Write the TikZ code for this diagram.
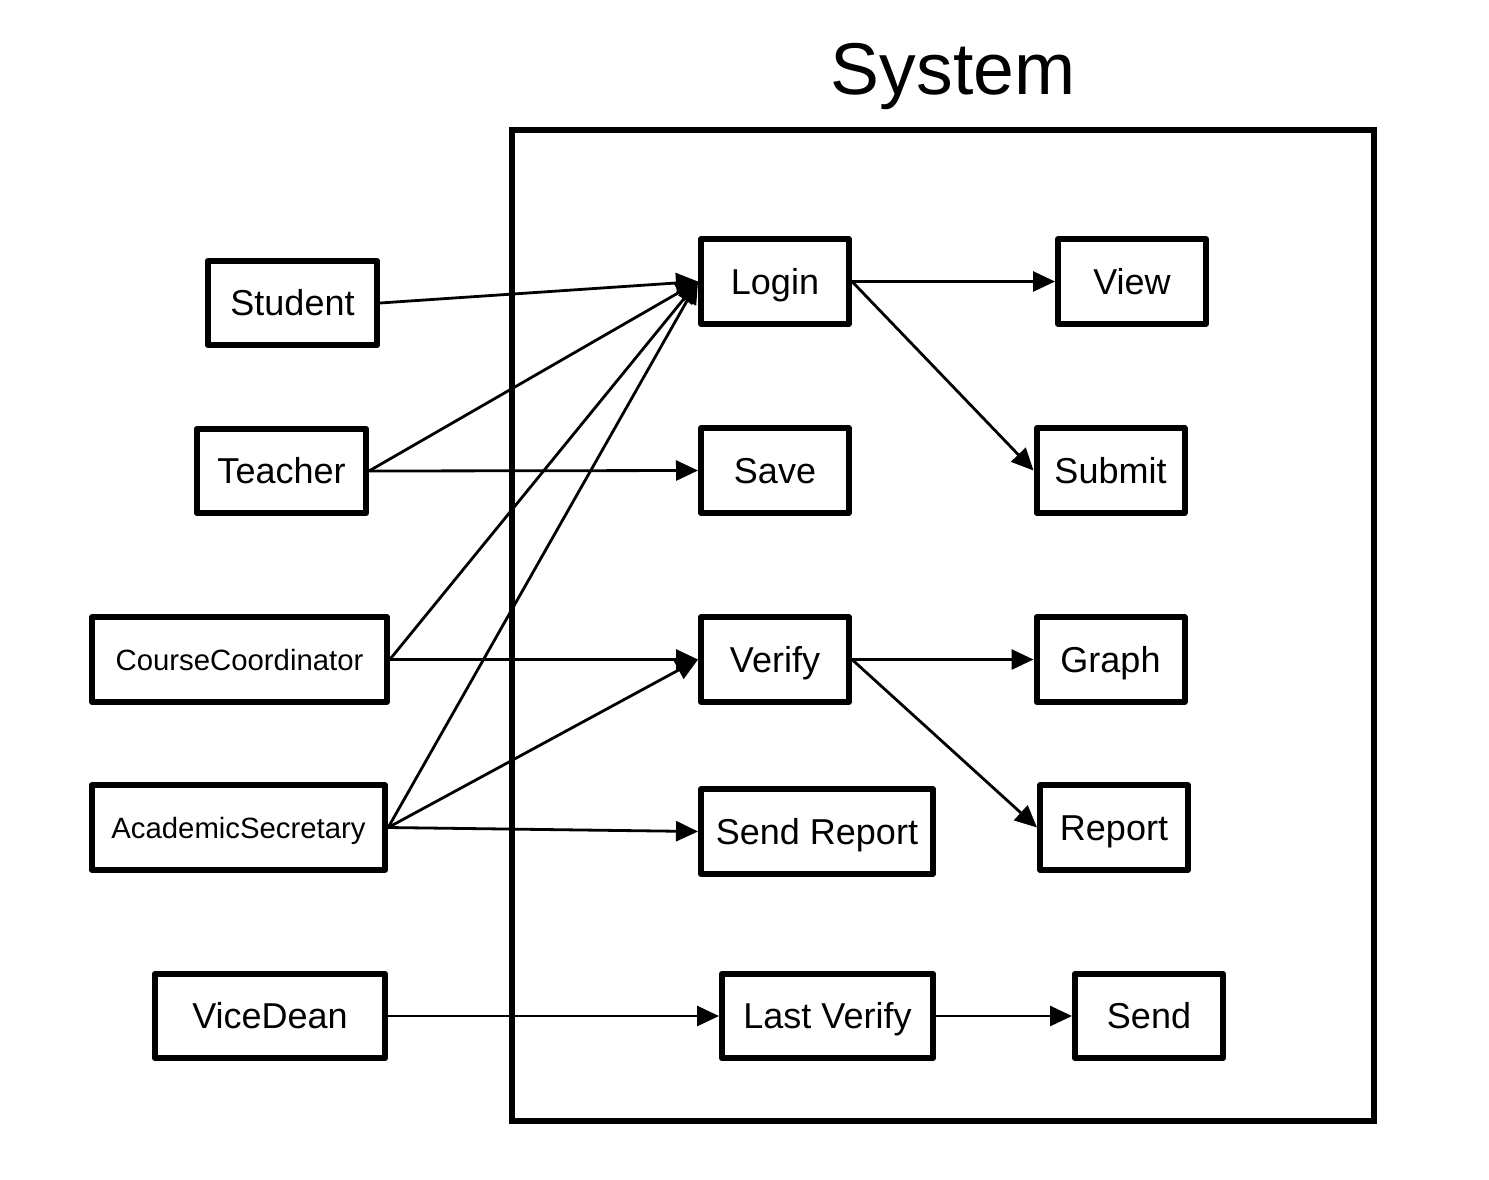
\documentclass[tikz,border=0pt]{standalone}
\usepackage{fontspec}
\setmainfont{Liberation Sans}
\usetikzlibrary{arrows.meta}
\tikzset{
  box/.style={draw, line width=4.5pt, line join=round, minimum height=63.5pt, inner sep=0pt,
    font=\fontsize{27}{32}\selectfont, text height=19.3pt, text depth=0pt},
  smallbox/.style={box, font=\fontsize{22}{26}\selectfont, text height=15.8pt},
  conn/.style={line width=2.1pt, -{Triangle[length=16.5pt,width=15pt]}}
}
\begin{document}
\begin{tikzpicture}[x=0.75pt,y=-0.75pt]
\useasboundingbox (0,0) rectangle (1489,1179);
% system boundary
\node[draw, line width=4.5pt, minimum width=646.5pt, minimum height=743pt, inner sep=0pt] (sys) at (943,625.5) {};
\node[font=\fontsize{55}{60}\selectfont, text height=39.4pt, text depth=0pt, inner sep=0pt] (title) at (953,68.5) {System};
% actors
\node[box, minimum width=126.75pt] (student) at (292.5,303) {Student};
\node[box, minimum width=126.75pt] (teacher) at (281.5,471) {Teacher};
\node[smallbox, minimum width=221pt] (cc) at (239.5,659.5) {CourseCoordinator};
\node[smallbox, minimum width=220pt] (as) at (238.5,827.5) {AcademicSecretary};
\node[box, minimum width=172.5pt] (vd) at (270,1016) {ViceDean};
% use cases
\node[box, minimum width=111pt] (login) at (775,281.5) {Login};
\node[box, minimum width=111pt] (save) at (775,470.5) {Save};
\node[box, minimum width=111pt] (verify) at (775,659.5) {Verify};
\node[box, minimum width=174pt] (sendrep) at (817,831.5) {Send Report};
\node[box, minimum width=158.25pt] (lastv) at (827.5,1016) {Last Verify};
\node[box, minimum width=111pt] (view) at (1132,281.5) {View};
\node[box, minimum width=111pt] (submit) at (1110.5,470.5) {Submit};
\node[box, minimum width=111pt] (graph) at (1110.5,659.5) {Graph};
\node[box, minimum width=111pt] (report) at (1114,827.5) {Report};
\node[box, minimum width=111pt] (send) at (1149,1016) {Send};
% connectors
\draw[conn] (student.east) -- (login.west);
\draw[conn] (teacher.east) -- (login.west);
\draw[conn] (teacher.east) -- (save.west);
\draw[conn] (cc.east) -- (login.west);
\draw[conn] (cc.east) -- (verify.west);
\draw[conn] (as.east) -- (login.west);
\draw[conn] (as.east) -- (verify.west);
\draw[conn] (as.east) -- (sendrep.west);
\draw[conn] (vd.east) -- (lastv.west);
\draw[conn] (login.east) -- (view.west);
\draw[conn] (login.east) -- (submit.west);
\draw[conn] (verify.east) -- (graph.west);
\draw[conn] (verify.east) -- (report.west);
\draw[conn] (lastv.east) -- (send.west);
\end{tikzpicture}
\end{document}
